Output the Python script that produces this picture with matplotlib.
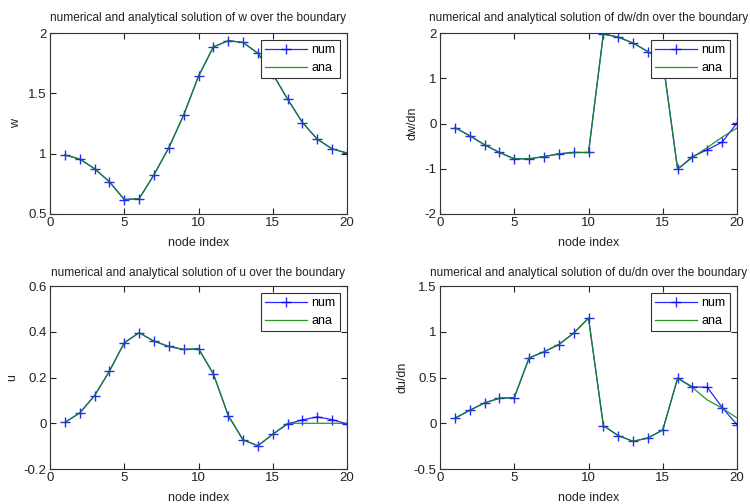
import numpy as np
import matplotlib.pyplot as plt

plt.rcParams["font.family"] = ["Liberation Sans", "DejaVu Sans"]

nodes = np.arange(1, 21)

# w on the boundary
w_num = [0.99, 0.955, 0.876, 0.767, 0.62, 0.627, 0.825, 1.05, 1.32, 1.643,
         1.885, 1.937, 1.922, 1.832, 1.66, 1.452, 1.258, 1.12, 1.04, 1.005]
w_ana = [0.99, 0.955, 0.876, 0.767, 0.62, 0.627, 0.825, 1.05, 1.32, 1.643,
         1.885, 1.937, 1.922, 1.832, 1.66, 1.452, 1.258, 1.12, 1.04, 1.005]

# dw/dn on the boundary
dw_num = [-0.09, -0.27, -0.47, -0.64, -0.78, -0.78, -0.73, -0.67, -0.64, -0.64,
          1.98, 1.91, 1.78, 1.59, 1.40, -1.01, -0.73, -0.58, -0.41, 0.01]
dw_ana = [-0.09, -0.27, -0.47, -0.64, -0.78, -0.78, -0.73, -0.67, -0.64, -0.64,
          1.98, 1.91, 1.78, 1.59, 1.40, -1.01, -0.75, -0.53, -0.30, -0.10]

# u on the boundary
u_num = [0.004, 0.045, 0.121, 0.228, 0.352, 0.396, 0.359, 0.336, 0.323, 0.326,
         0.216, 0.034, -0.073, -0.098, -0.048, -0.003, 0.015, 0.028, 0.016, -0.003]
u_ana = [0.004, 0.045, 0.121, 0.228, 0.352, 0.396, 0.359, 0.336, 0.323, 0.326,
         0.216, 0.034, -0.073, -0.098, -0.048, 0.0, 0.0, 0.0, 0.0, 0.0]

# du/dn on the boundary
du_num = [0.055, 0.142, 0.223, 0.274, 0.281, 0.715, 0.781, 0.861, 0.985, 1.15,
          -0.026, -0.135, -0.197, -0.161, -0.073, 0.493, 0.398, 0.394, 0.172, -0.015]
du_ana = [0.055, 0.142, 0.223, 0.274, 0.281, 0.715, 0.781, 0.861, 0.985, 1.15,
          -0.026, -0.135, -0.197, -0.161, -0.073, 0.493, 0.39, 0.255, 0.165, 0.058]

panels = [
    ("w", w_num, w_ana, (0.5, 2), [0.5, 1, 1.5, 2], ["0.5", "1", "1.5", "2"]),
    ("dw/dn", dw_num, dw_ana, (-2, 2), [-2, -1, 0, 1, 2], ["-2", "-1", "0", "1", "2"]),
    ("u", u_num, u_ana, (-0.2, 0.6), [-0.2, 0, 0.2, 0.4, 0.6], ["-0.2", "0", "0.2", "0.4", "0.6"]),
    ("du/dn", du_num, du_ana, (-0.5, 1.5), [-0.5, 0, 0.5, 1, 1.5], ["-0.5", "0", "0.5", "1", "1.5"]),
]

# axes boxes in figure fractions: left, bottom, width, height
boxes = [
    (0.0667, 0.5754, 0.396, 0.359),
    (0.5867, 0.5754, 0.396, 0.359),
    (0.0667, 0.0694, 0.396, 0.363),
    (0.5867, 0.0694, 0.396, 0.363),
]
title_pads = [8.5, 8.5, 7, 7]

fig = plt.figure(figsize=(7.5, 5.04), dpi=100)

for (name, num, ana, ylim, yt, ytl), box, tpad in zip(panels, boxes, title_pads):
    ax = fig.add_axes(box)
    ax.plot(nodes, num, color="#0000ff", marker="+", markersize=7.5, lw=0.9,
            mew=1.0, label="num", alpha=0.85)
    ax.plot(nodes, ana, color="#108a10", lw=0.9, label="ana", alpha=0.9)
    ax.set_xlim(0, 20)
    ax.set_ylim(*ylim)
    ax.set_xticks([0, 5, 10, 15, 20])
    ax.set_yticks(yt)
    ax.set_yticklabels(ytl)
    ax.tick_params(direction="in", length=4, width=0.8, top=True, right=True,
                   labelsize=9.5, pad=2.5, colors="#222222")
    for sp in ax.spines.values():
        sp.set_color("#333333")
        sp.set_linewidth(0.8)
    ax.set_xlabel("node index", fontsize=9, labelpad=5.5, color="#222222")
    ax.set_ylabel(name, fontsize=9, labelpad=4, color="#222222")
    ax.set_title(f"numerical and analytical solution of {name} over the boundary",
                 fontsize=8.6, pad=tpad, color="#222222")
    leg = ax.legend(loc="upper right", fontsize=9, fancybox=False, framealpha=1,
                    edgecolor="#333333", handlelength=3.3, borderaxespad=0.55,
                    handletextpad=0.4, labelspacing=0.45, borderpad=0.35)
    leg.get_frame().set_linewidth(0.8)

fig.savefig("out.png", dpi=100)
